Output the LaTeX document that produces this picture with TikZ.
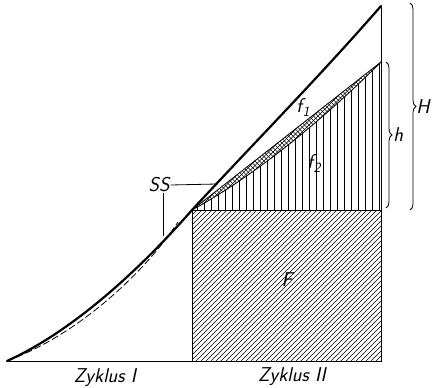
\documentclass[tikz,border=0pt]{standalone}
\usepackage{fontspec}
\usetikzlibrary{decorations.pathreplacing}
\newcommand{\fsub}[1]{f\kern0.5pt\raisebox{-4pt}{\fontsize{14}{14}\selectfont #1}}
\tikzset{
  bold/.style={line width=2.2pt,line cap=round},
  fine/.style={line width=0.8pt},
  hatch/.style={line width=0.5pt},
  dsh/.style={line width=0.8pt,dash pattern=on 7pt off 3pt},
  lbl/.style={font=\fontsize{20}{24}\selectfont\sffamily\itshape,inner sep=1pt},
  brc/.style={fine,decorate,decoration={brace,amplitude=6pt}},
}

\begin{document}
\begin{tikzpicture}[x=1pt,y=-1pt]
  \useasboundingbox (0,0) rectangle (432,388);
  % main points
  \coordinate (O) at (7,361);
  \coordinate (C) at (192,210);
  \coordinate (T) at (381,6);
  \coordinate (A) at (381,62);
  \coordinate (R) at (381,210);
  \coordinate (B) at (381,361);
  \coordinate (S1) at (178,222);

  % area F
  \begin{scope}
    \clip (C) rectangle (B);
    \foreach \i in {41,46,...,386} \draw[hatch] (\i,361) -- (\i+151,210);
  \end{scope}
  % area f2
  \begin{scope}
    \clip (C) .. controls (260,173) and (330,113) .. (A) -- (R) -- cycle;
    \foreach \x in {197,204,...,381} \draw[hatch] (\x,55) -- (\x,212);
  \end{scope}
  % strip between chord and curve
  \begin{scope}
    \clip (C) -- (A) .. controls (330,113) and (260,173) .. (C);
    \foreach \i in {30,34.5,...,546} {
      \draw[hatch,line width=0.4pt] (\i,215) -- ++(160,-160);
      \draw[hatch,line width=0.4pt] (\i,215) -- ++(-160,-160);
    }
  \end{scope}

  \draw[fine] (O) -- (B) -- (T);
  \draw[fine] (C) rectangle (B);
  \draw[fine] (C) -- (A);
  \draw[fine] (C) .. controls (260,173) and (330,113) .. (A);
  \draw[dsh] (O) .. controls (85,332) and (150,265) .. (S1);
  \draw[bold] (O) .. controls (80,328) and (150,258) .. (C)
              .. controls (255,142) and (320,76) .. (T);

  % labels
  \node[lbl] (f1) at (303,107) {\fsub{1}};
  \node[lbl] (f2) at (314,163) {\fsub{2}};
  \node[lbl] (F) at (287,280) {F};
  \node[lbl] (SS) at (159,185) {SS};
  \node[lbl] (z1) at (105,378) {Zyklus I};
  \node[lbl] (z2) at (292,377) {Zyklus II};

  % leaders of SS
  \coordinate (ss1) at (217,184);
  \coordinate (ss2) at (163,236);
  \draw[fine] (SS.east) -- (ss1);
  \draw[fine] (ss2 |- SS.south) -- (ss2);

  % braces
  \coordinate (h1) at (386,62);
  \coordinate (h2) at (386,208);
  \coordinate (H1) at (410,3);
  \coordinate (H2) at (410,210);
  \draw[brc] (h1) -- (h2) node[lbl,midway,right=6pt] (h) {h};
  \draw[brc] (H1) -- (H2) node[lbl,midway,right=5pt] (H) {H};
\end{tikzpicture}
\end{document}
